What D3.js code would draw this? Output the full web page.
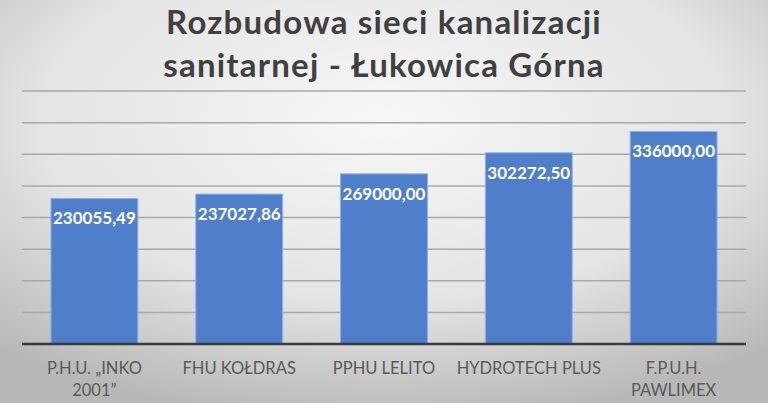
<!DOCTYPE html>
<html>
<head>
<meta charset="utf-8">
<script src="https://cdn.jsdelivr.net/npm/d3@7"></script>
<style>
  html, body { margin: 0; padding: 0; overflow: hidden; }
  svg { display: block; font-family: Lato, "Open Sans", sans-serif; }
</style>
</head>
<body>
<svg id="chart" width="768" height="403"></svg>
<script>
// chart data
const title_lines = ["Rozbudowa sieci kanalizacji", "sanitarnej - Łukowica Górna"];
const companies = ["P.H.U. „INKO\n2001”", "FHU KOŁDRAS", "PPHU LELITO", "HYDROTECH PLUS", "F.P.U.H.\nPAWLIMEX"];
const amounts = [230055.49, 237027.86, 269000.00, 302272.50, 336000.00];
const y_ticks = [0, 50000, 100000, 150000, 200000, 250000, 300000, 350000, 400000];

const width = 768;
const height = 403;
const margins = { top: 91, right: 22, bottom: 59, left: 22 };

const svg = d3.select("#chart");

// background: light centre, darker edges
const defs = svg.append("defs");
const bg = defs.append("radialGradient")
    .attr("id", "bg")
    .attr("cx", "50%").attr("cy", "30%").attr("r", "75%");
bg.append("stop").attr("offset", "0%").attr("stop-color", "#f7f7f7");
bg.append("stop").attr("offset", "60%").attr("stop-color", "#e4e4e4");
bg.append("stop").attr("offset", "100%").attr("stop-color", "#b8b8b8");

svg.append("rect")
    .attr("width", width)
    .attr("height", height)
    .attr("fill", "url(#bg)");

const x = d3.scaleBand()
    .domain(companies)
    .range([margins.left, width - margins.right])
    .paddingInner(0.4)
    .paddingOuter(0.2);

const y = d3.scaleLinear()
    .domain([0, d3.max(y_ticks)])
    .range([height - margins.bottom, margins.top]);

// gridlines
svg.append("g")
    .selectAll("line")
    .data(y_ticks.slice(1))
    .join("line")
    .attr("x1", margins.left)
    .attr("x2", width - margins.right)
    .attr("y1", d => y(d))
    .attr("y2", d => y(d))
    .attr("stroke", "#a8a8a8")
    .attr("stroke-width", 1.5);

// bars
svg.append("g")
    .selectAll("rect")
    .data(amounts)
    .join("rect")
    .attr("x", (d, i) => x(companies[i]))
    .attr("y", d => y(d))
    .attr("width", x.bandwidth())
    .attr("height", d => y(0) - y(d))
    .attr("fill", "#4f7fcb")
    .attr("stroke", "#8fb0e6")
    .attr("stroke-width", 1);

// base axis line
svg.append("line")
    .attr("x1", margins.left)
    .attr("x2", width - margins.right)
    .attr("y1", y(0))
    .attr("y2", y(0))
    .attr("stroke", "#3a3a3a")
    .attr("stroke-width", 2.5);

// value labels, polish number format
const pl = d3.formatLocale({ decimal: ",", thousands: "", grouping: [3], currency: ["", " zł"] });
const fmt = pl.format(".2f");

svg.append("g")
    .selectAll("text")
    .data(amounts)
    .join("text")
    .attr("x", (d, i) => x(companies[i]) + x.bandwidth() / 2)
    .attr("y", d => y(d) + 26)
    .attr("text-anchor", "middle")
    .attr("fill", "white")
    .style("font-size", "17px")
    .style("font-weight", "bold")
    .text(d => fmt(d));

// category labels
const cats = svg.append("g")
    .selectAll("text")
    .data(companies)
    .join("text")
    .attr("x", d => x(d) + x.bandwidth() / 2)
    .attr("y", 374)
    .attr("text-anchor", "middle")
    .attr("fill", "#595959")
    .style("font-size", "16.5px");

cats.selectAll("tspan")
    .data(d => d.split("\n"))
    .join("tspan")
    .attr("x", function() { return d3.select(this.parentNode).attr("x"); })
    .attr("dy", (d, i) => i === 0 ? 0 : 22)
    .text(d => d);

// title
svg.append("text")
    .attr("x", width / 2)
    .attr("y", 34)
    .attr("text-anchor", "middle")
    .attr("fill", "#404040")
    .style("font-size", "33px")
    .style("font-weight", "bold")
    .style("letter-spacing", "1.2px")
    .selectAll("tspan")
    .data(title_lines)
    .join("tspan")
    .attr("x", width / 2)
    .attr("dy", (d, i) => i === 0 ? 0 : 43)
    .text(d => d);
</script>
</body>
</html>
